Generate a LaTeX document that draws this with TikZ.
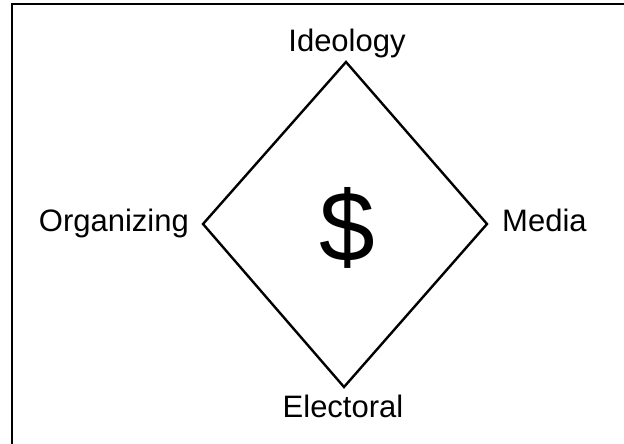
\documentclass[tikz,border=0pt]{standalone}
\usepackage{fontspec}
\setmainfont{Liberation Sans}
\begin{document}
\begin{tikzpicture}[x=1pt,y=-1pt,
  frameline/.style={line width=2pt,draw=black},
  diamondline/.style={line width=2.4pt,draw=black,line join=miter},
  lbl/.style={font=\fontsize{31}{31}\selectfont,inner sep=0pt}]
\useasboundingbox (0,0) rectangle (624,444);
% frame (cropped)
\coordinate (fb) at (11.5,444);
\coordinate (fc) at (11.5,4.5);
\coordinate (fr) at (624,4.5);
\draw[frameline] (fb) -- (fc) -- (fr);
% diamond
\coordinate (T) at (346,62);
\coordinate (R) at (487,224);
\coordinate (B) at (344,387);
\coordinate (L) at (203,224);
\draw[diamondline] (T) -- (R) -- (B) -- (L) -- cycle;
% labels
\node[lbl,anchor=base] (ideo) at (347,52) {Ideology};
\node[lbl,anchor=base] (elec) at (343,417) {Electoral};
\node[lbl,anchor=base east] (org) at (189,231) {Organizing};
\node[lbl,anchor=base west] (med) at (502,231) {Media};
\node[inner sep=0pt,anchor=base,font=\fontsize{100}{100}\selectfont] (dollar) at (347,261) {\$};
\end{tikzpicture}
\end{document}
